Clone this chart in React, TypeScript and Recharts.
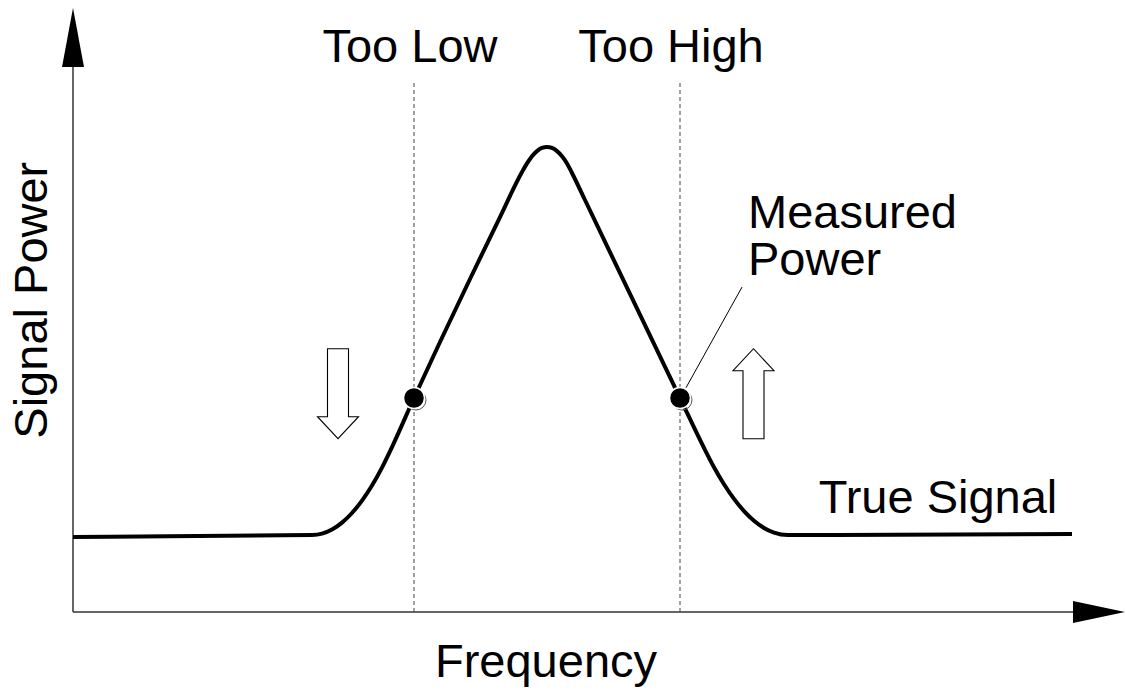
import React from 'react';
import { LineChart, Line, XAxis, YAxis, ReferenceLine, ReferenceDot } from 'recharts';

// True signal curve (frequency 0..100, power 0..100)
const freq = [0, 23.9, 24.9, 25.9, 26.9, 27.9, 28.9, 29.9, 30.9, 31.9, 34.1, 36.7, 39.7, 42.7, 44.9, 45.4, 45.9, 46.4, 46.9, 47.4, 47.9, 48.4, 48.9, 49.4, 49.9, 51.2, 55.7, 60.7, 63.1, 64.1, 65.1, 66.1, 67.1, 68.1, 69.1, 70.1, 71.5, 99.9];
const power = [13.71, 14.08, 14.33, 15.08, 16.34, 18.1, 20.37, 23.13, 26.4, 30.16, 39.12, 49.36, 60.88, 72.21, 80.44, 82.01, 83.33, 84.26, 84.83, 85.01, 84.83, 84.26, 83.33, 82.01, 80.26, 75.32, 58.14, 39.12, 30.0, 26.47, 23.35, 20.68, 18.46, 16.69, 15.37, 14.52, 14.08, 14.26];

// Measurement frequencies (dashed lines) and measured powers
const measureFreq = [34.1, 60.7];
const measurePower = [39.12, 39.12];
const measureLabels = ['Too Low', 'Too High'];
const measureLabelX = [33.7, 59.8];

// Hollow direction arrows
const arrowFreq = [26.5, 68.05];
const arrowPower = [39.9, 39.9];
const arrowDir = ['down', 'up'];

const data = freq.map((f, i) => ({ f, p: power[i] }));

const FONT = '"Liberation Sans", Arial, Helvetica, sans-serif';
const FS = 47;

const TextShape = (text: string, anchor: string, rotate = false) => (props: any) => {
  const { cx, cy } = props;
  return (
    <text
      x={cx}
      y={cy}
      textAnchor={anchor}
      fontFamily={FONT}
      fontSize={FS}
      fill="#000"
      transform={rotate ? `rotate(-90 ${cx} ${cy})` : undefined}
    >
      {text}
    </text>
  );
};

const ArrowShape = (dir: string) => (props: any) => {
  const { cx, cy } = props;
  const s = dir === 'down' ? 1 : -1;
  const pts = [
    [-10.5, -45 * s],
    [10.5, -45 * s],
    [10.5, 23 * s],
    [20.5, 23 * s],
    [0, 45 * s],
    [-20.5, 23 * s],
    [-10.5, 23 * s],
  ]
    .map(([dx, dy]) => `${cx + dx},${cy + dy}`)
    .join(' ');
  return <polygon points={pts} fill="#fff" stroke="#000" strokeWidth={1.1} />;
};

const MeasureDot = (props: any) => {
  const { cx, cy } = props;
  return (
    <g>
      <circle cx={cx + 2} cy={cy + 2} r={10} fill="none" stroke="#555" strokeWidth={1} />
      <circle cx={cx} cy={cy} r={10.5} fill="#000" stroke="#fff" strokeWidth={1.5} />
    </g>
  );
};

const RightHead = (props: any) => {
  const { cx, cy } = props;
  return <polygon points={`${cx},${cy - 11} ${cx + 52},${cy} ${cx},${cy + 11}`} fill="#000" />;
};
const UpHead = (props: any) => {
  const { cx, cy } = props;
  return <polygon points={`${cx - 11},${cy + 2} ${cx},${cy - 57} ${cx + 11},${cy + 2}`} fill="#000" />;
};

export default function App() {
  return (
    <div style={{ position: 'absolute', left: 0, top: 0, background: '#fff' }}>
      <LineChart
        width={1126}
        height={691}
        data={data}
        margin={{ top: 65, left: 73, right: 53, bottom: 79 }}
      >
        <XAxis dataKey="f" type="number" domain={[0, 100]} hide />
        <YAxis type="number" domain={[0, 100]} hide />

        {/* axes */}
        <ReferenceLine segment={[{ x: 0, y: 0 }, { x: 100, y: 0 }]} stroke="#333" strokeWidth={1.5} ifOverflow="visible" />
        <ReferenceLine segment={[{ x: 0, y: 0 }, { x: 0, y: 100 }]} stroke="#333" strokeWidth={1.5} ifOverflow="visible" />
        <ReferenceDot x={100} y={0} r={1} shape={RightHead} ifOverflow="visible" />
        <ReferenceDot x={0} y={100} r={1} shape={UpHead} ifOverflow="visible" />

        {/* measurement dashed lines */}
        {measureFreq.map((m) => (
          <ReferenceLine
            key={'d' + m}
            segment={[{ x: m, y: 0 }, { x: m, y: 96.9 }]}
            stroke="#444"
            strokeWidth={1}
            strokeDasharray="4 3"
            ifOverflow="visible"
          />
        ))}

        {/* callout line */}
        <ReferenceLine segment={[{ x: 61.3, y: 41.0 }, { x: 66.9, y: 59.4 }]} stroke="#000" strokeWidth={1} ifOverflow="visible" />

        <Line type="monotone" dataKey="p" stroke="#000" strokeWidth={4} dot={false} isAnimationActive={false} />

        {measureFreq.map((m, i) => (
          <ReferenceDot key={'m' + m} x={m} y={measurePower[i]} r={10} shape={MeasureDot} ifOverflow="visible" />
        ))}

        {arrowFreq.map((a, i) => (
          <ReferenceDot key={'a' + a} x={a} y={arrowPower[i]} r={1} shape={ArrowShape(arrowDir[i])} ifOverflow="visible" />
        ))}

        {measureLabels.map((t, i) => (
          <ReferenceDot key={t} x={measureLabelX[i]} y={100.5} r={1} shape={TextShape(t, 'middle')} ifOverflow="visible" />
        ))}
        <ReferenceDot x={67.5} y={70.2} r={1} shape={TextShape('Measured', 'start')} ifOverflow="visible" />
        <ReferenceDot x={67.5} y={61.6} r={1} shape={TextShape('Power', 'start')} ifOverflow="visible" />
        <ReferenceDot x={86.5} y={18.1} r={1} shape={TextShape('True Signal', 'middle')} ifOverflow="visible" />
        <ReferenceDot x={47.3} y={-11.9} r={1} shape={TextShape('Frequency', 'middle')} ifOverflow="visible" />
        <ReferenceDot x={-2.6} y={57.0} r={1} shape={TextShape('Signal Power', 'middle', true)} ifOverflow="visible" />
      </LineChart>
    </div>
  );
}
